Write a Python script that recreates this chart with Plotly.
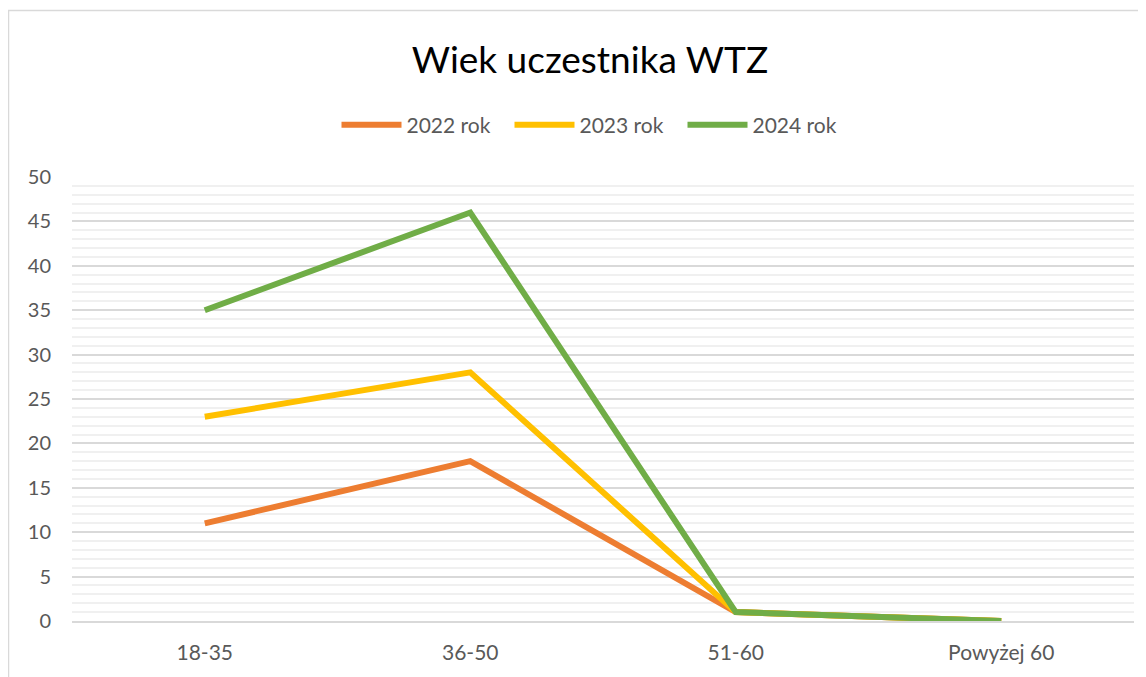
import plotly.graph_objects as go

categories = ["18-35", "36-50", "51-60", "Powyżej 60"]
series_names = ["2022 rok", "2023 rok", "2024 rok"]
values_2022 = [11, 18, 1, 0]
values_2023 = [23, 28, 1, 0]
values_2024 = [35, 46, 1, 0]
colors = ["#ED7D31", "#FFC000", "#70AD47"]
y_ticks = [0, 5, 10, 15, 20, 25, 30, 35, 40, 45, 50]

# page body has ~8px margin; compensate so that plot lands where the reference has it
OFF = 8
W, H = 1146 - OFF, 677 - OFF
L, R, T = 72 - OFF, 12, 177 - OFF
B = H - (621 - OFF)
pw, ph = W - L - R, H - T - B

fig = go.Figure()
for name, vals, c in zip(series_names, [values_2022, values_2023, values_2024], colors):
    fig.add_trace(go.Scatter(x=categories, y=vals, name=name, mode="lines",
                             line=dict(color=c, width=6)))

fig.update_layout(
    width=W, height=H,
    margin=dict(l=L, r=R, t=T, b=B, autoexpand=False),
    paper_bgcolor="white", plot_bgcolor="white",
    font=dict(family="Lato", color="#595959"),
    title=dict(text="Wiek uczestnika WTZ", x=(590 - OFF) / W, xanchor="center",
               y=1 - (60 - OFF) / H, yanchor="middle",
               font=dict(size=37, color="#000000", family="Lato")),
    legend=dict(orientation="h", x=(596 - OFF - L) / pw, xanchor="center",
                y=(H - B - (125 - OFF)) / ph, yanchor="middle",
                font=dict(size=21, color="#595959"), entrywidth=98, entrywidthmode="pixels",
                itemwidth=60, traceorder="normal", bgcolor="rgba(0,0,0,0)"),
    showlegend=True,
)

fig.update_xaxes(type="category", range=[-0.5, 3.5], showgrid=False, showline=True,
                 linecolor="#d9d9d9", linewidth=1.5, ticks="", tickfont=dict(size=21, color="#595959"),
                 zeroline=False, ticklabelstandoff=12, automargin=False)
fig.update_yaxes(range=[0, 50], tickvals=y_ticks, showgrid=True, gridcolor="#d9d9d9", gridwidth=1.5,
                 minor=dict(dtick=1, showgrid=True, gridcolor="#f0f0f0", gridwidth=1.5),
                 zeroline=False, showline=False, ticks="", tickfont=dict(size=20, color="#595959"),
                 ticklabelstandoff=20, automargin=False)

fig.add_shape(type="rect", xref="paper", yref="paper",
              x0=(8.5 - OFF - L) / pw, x1=1.05, y0=-0.2, y1=(H - B - (10.5 - OFF)) / ph,
              line=dict(color="#d9d9d9", width=1.5), fillcolor="rgba(0,0,0,0)", layer="below")

fig.write_html("out.html")
